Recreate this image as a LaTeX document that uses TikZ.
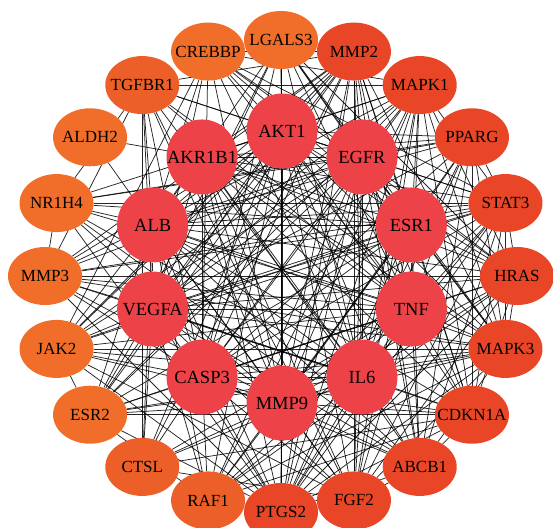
\documentclass[tikz,border=0pt]{standalone}
\usepackage{fontspec}
\setmainfont{Liberation Serif}
\usetikzlibrary{shapes.geometric, calc, backgrounds}
\usepackage{xcolor}
\definecolor{hubred}{RGB}{237,66,72}
\definecolor{geneorange}{RGB}{240,110,42}
\definecolor{genemid}{RGB}{237,95,40}
\definecolor{genered}{RGB}{232,70,38}
\tikzstyle{hub} = [ellipse, minimum width=71pt, minimum height=75pt, inner sep=0pt, fill=hubred, text=black, font=\fontsize{18.5}{18.5}\selectfont]
\tikzstyle{gene} = [ellipse, minimum width=74pt, minimum height=58pt, inner sep=0pt, fill=geneorange, text=black, font=\fontsize{17}{17}\selectfont]
\tikzstyle{link} = [black, line width=0.75pt, opacity=0.85]
\newcommand{\lbl}[1]{\makebox[0pt]{#1}}

\begin{document}
\begin{tikzpicture}
    \useasboundingbox (0,0) rectangle (553pt,527pt);
    \coordinate (oc) at (281pt,251pt);
    \coordinate (ic) at (282pt,260pt);

    % inner ring (hubs)
    \node (AKT1)   [hub] at ($(ic)+(90:136pt)$)   {\lbl{AKT1}};
    \node (EGFR)   [hub] at ($(ic)+(54:136pt)$)   {\lbl{EGFR}};
    \node (ESR1)   [hub] at ($(ic)+(18:136pt)$)   {\lbl{ESR1}};
    \node (TNF)    [hub] at ($(ic)+(-18:136pt)$)  {\lbl{TNF}};
    \node (IL6)    [hub] at ($(ic)+(-54:136pt)$)  {\lbl{IL6}};
    \node (MMP9)   [hub] at ($(ic)+(-90:136pt)$)  {\lbl{MMP9}};
    \node (CASP3)  [hub] at ($(ic)+(-126:136pt)$) {\lbl{CASP3}};
    \node (VEGFA)  [hub] at ($(ic)+(-162:136pt)$) {\lbl{VEGFA}};
    \node (ALB)    [hub] at ($(ic)+(162:136pt)$)  {\lbl{ALB}};
    \node (AKR1B1) [hub] at ($(ic)+(126:136pt)$)  {\lbl{AKR1B1}};

    % outer ring
    \node (LGALS3) [gene] at ($(oc)+(90:236pt)$)   {\lbl{LGALS3}};
    \node (MMP2)   [gene, fill=genered] at ($(oc)+(72:236pt)$)   {\lbl{MMP2}};
    \node (MAPK1)  [gene, fill=genered] at ($(oc)+(54:236pt)$)   {\lbl{MAPK1}};
    \node (PPARG)  [gene, fill=genered] at ($(oc)+(36:236pt)$)   {\lbl{PPARG}};
    \node (STAT3)  [gene, fill=genered] at ($(oc)+(18:236pt)$)   {\lbl{STAT3}};
    \node (HRAS)   [gene, fill=genered] at ($(oc)+(0:236pt)$)    {\lbl{HRAS}};
    \node (MAPK3)  [gene, fill=genered] at ($(oc)+(-18:236pt)$)  {\lbl{MAPK3}};
    \node (CDKN1A) [gene, fill=genered] at ($(oc)+(-36:236pt)$)  {\lbl{CDKN1A}};
    \node (ABCB1)  [gene, fill=genered] at ($(oc)+(-54:236pt)$)  {\lbl{ABCB1}};
    \node (FGF2)   [gene, fill=genered] at ($(oc)+(-72:236pt)$)  {\lbl{FGF2}};
    \node (PTGS2)  [gene, fill=genered] at ($(oc)+(-90:236pt)$)  {\lbl{PTGS2}};
    \node (RAF1)   [gene, fill=genemid] at ($(oc)+(-108:236pt)$) {\lbl{RAF1}};
    \node (CTSL)   [gene, fill=genemid] at ($(oc)+(-126:236pt)$) {\lbl{CTSL}};
    \node (ESR2)   [gene] at ($(oc)+(-144:236pt)$) {\lbl{ESR2}};
    \node (JAK2)   [gene] at ($(oc)+(-162:236pt)$) {\lbl{JAK2}};
    \node (MMP3)   [gene] at ($(oc)+(180:236pt)$)  {\lbl{MMP3}};
    \node (NR1H4)  [gene] at ($(oc)+(162:236pt)$)  {\lbl{NR1H4}};
    \node (ALDH2)  [gene] at ($(oc)+(144:236pt)$)  {\lbl{ALDH2}};
    \node (TGFBR1) [gene, fill=genemid] at ($(oc)+(126:236pt)$)  {\lbl{TGFBR1}};
    \node (CREBBP) [gene] at ($(oc)+(108:236pt)$)  {\lbl{CREBBP}};

    \begin{scope}[on background layer]
        % hubs all linked to each other
        \foreach \a [count=\i] in {AKT1,EGFR,ESR1,TNF,IL6,MMP9,CASP3,VEGFA,ALB,AKR1B1} {
            \foreach \b [count=\j] in {AKT1,EGFR,ESR1,TNF,IL6,MMP9,CASP3,VEGFA,ALB,AKR1B1} {
                \ifnum\j>\i \draw [link] (\a) -- (\b); \fi
            }
        }
        % high degree genes to every hub
        \foreach \o in {MMP2,MAPK1,PPARG,STAT3,HRAS,MAPK3,CDKN1A,ABCB1,FGF2,PTGS2} {
            \foreach \c in {AKT1,EGFR,ESR1,TNF,IL6,MMP9,CASP3,VEGFA,ALB,AKR1B1} {
                \draw [link] (\o) -- (\c);
            }
        }
        % lower degree genes to some hubs
        \foreach \o/\cs in {LGALS3/{AKT1,EGFR,ESR1,TNF,IL6,MMP9,CASP3,VEGFA,ALB},
                            CREBBP/{AKT1,EGFR,ESR1,TNF,IL6,MMP9,CASP3,VEGFA},
                            TGFBR1/{AKT1,EGFR,TNF,IL6,VEGFA,ALB,CASP3,MMP9},
                            ALDH2/{AKR1B1,ALB},
                            NR1H4/{ALB,ESR1,TNF,IL6,AKT1,MMP9,EGFR},
                            MMP3/{AKT1,EGFR,TNF,IL6,MMP9,VEGFA,ALB,CASP3,ESR1},
                            JAK2/{AKT1,EGFR,ESR1,TNF,IL6,VEGFA,CASP3,MMP9,ALB},
                            ESR2/{ESR1,AKT1,EGFR,TNF,IL6,MMP9,CASP3,VEGFA},
                            CTSL/{ALB,MMP9,TNF,CASP3,VEGFA,IL6,AKT1},
                            RAF1/{AKT1,EGFR,ESR1,TNF,IL6,CASP3,VEGFA,MMP9,ALB}} {
            \foreach \c in \cs {
                \draw [link] (\o) -- (\c);
            }
        }
        % gene to gene
        \foreach \i/\j in {MMP2/MAPK3, MMP2/CDKN1A, MMP2/MMP3, MMP2/TGFBR1, MMP2/CTSL, MMP2/LGALS3,
                           MMP2/CREBBP, MMP2/ESR2, MMP2/PTGS2, MMP2/FGF2, MMP2/ABCB1, MMP2/JAK2,
                           MAPK1/HRAS, MAPK1/MAPK3, MAPK1/STAT3, MAPK1/PTGS2, MAPK1/FGF2, MAPK1/RAF1,
                           MAPK1/JAK2, MAPK1/ESR2, MAPK1/CREBBP, MAPK1/TGFBR1, MAPK1/CDKN1A,
                           PPARG/STAT3, PPARG/PTGS2, PPARG/ABCB1, PPARG/CDKN1A, PPARG/NR1H4, PPARG/MAPK3,
                           STAT3/HRAS, STAT3/MAPK3, STAT3/JAK2, STAT3/MMP3, STAT3/PTGS2, STAT3/CDKN1A,
                           STAT3/NR1H4, STAT3/CREBBP, STAT3/ABCB1, STAT3/FGF2,
                           HRAS/MAPK3, HRAS/RAF1, HRAS/FGF2, HRAS/CDKN1A, HRAS/CREBBP, HRAS/LGALS3,
                           HRAS/PTGS2, HRAS/MMP3,
                           MAPK3/PTGS2, MAPK3/FGF2, MAPK3/RAF1, MAPK3/ESR2, MAPK3/JAK2, MAPK3/MMP3,
                           MAPK3/TGFBR1, MAPK3/LGALS3, MAPK3/ABCB1,
                           CDKN1A/PTGS2, CDKN1A/ABCB1, CDKN1A/ESR2, CDKN1A/CTSL, CDKN1A/RAF1,
                           ABCB1/PTGS2, ABCB1/NR1H4, ABCB1/FGF2, FGF2/PTGS2, FGF2/TGFBR1, FGF2/CTSL, FGF2/JAK2,
                           PTGS2/MMP3, PTGS2/JAK2, PTGS2/ESR2, PTGS2/NR1H4, PTGS2/LGALS3, PTGS2/RAF1,
                           CREBBP/ESR2, CREBBP/JAK2, TGFBR1/CTSL, TGFBR1/MMP3, JAK2/ESR2, RAF1/ESR2,
                           NR1H4/MMP3, NR1H4/TGFBR1, LGALS3/ESR2} {
            \draw [link] (\i) -- (\j);
        }
    \end{scope}
\end{tikzpicture}
\end{document}
